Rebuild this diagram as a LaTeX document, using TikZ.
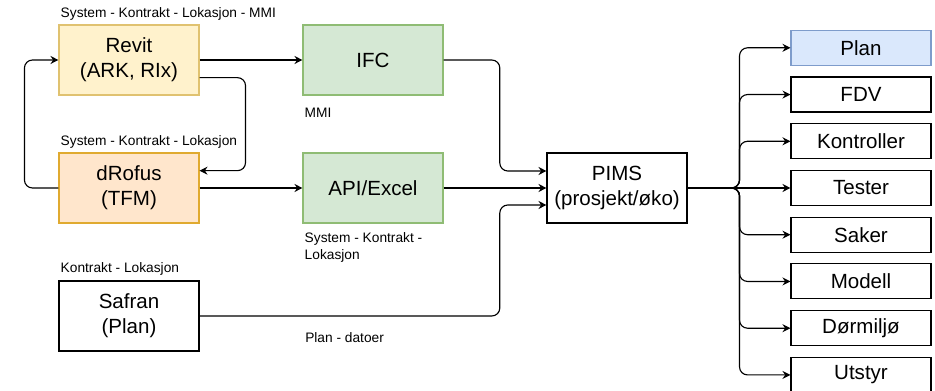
\documentclass[tikz,border=0pt]{standalone}
\usepackage{fontspec}
\setmainfont{Liberation Sans}
\usetikzlibrary{arrows.meta, positioning}

\definecolor{revitfill}{HTML}{FFF2CC}
\definecolor{revitline}{HTML}{E0C270}
\definecolor{drofusfill}{HTML}{FFE6CC}
\definecolor{drofusline}{HTML}{E0AA30}
\definecolor{greenfill}{HTML}{D5E8D4}
\definecolor{greenline}{HTML}{8FBC74}
\definecolor{bluefill}{HTML}{DAE8FC}
\definecolor{blueline}{HTML}{7E9CCB}

\begin{document}
\begin{tikzpicture}[
        x=0.75pt, y=-0.75pt,
        font=\fontsize{15.4}{18.8}\selectfont,
        node distance=42.7pt and 77.2pt,
        box/.style={rectangle, draw, fill=white, line width=0.8pt, minimum width=105pt, minimum height=52.5pt, align=center, inner sep=1pt},
        item/.style={box, minimum height=26.25pt},
        lbl/.style={font=\fontsize{10.3}{12.75}\selectfont, inner sep=0pt, align=left},
        arrow/.style={-{Stealth[length=6pt, width=6pt, inset=2pt]}, line width=0.85pt, rounded corners=6pt}
    ]
        \useasboundingbox (0,0) rectangle (935,391);

        % Sources
        \node[box, fill=revitfill, draw=revitline] (revit) at (129,60) {Revit\\(ARK, RIx)};
        \node[box, fill=greenfill, draw=greenline, right=of revit] (ifc) {IFC};
        \node[box, fill=drofusfill, draw=drofusline, below=of revit] (drofus) {dRofus\\(TFM)};
        \node[box, fill=greenfill, draw=greenline, right=of drofus] (api) {API/Excel};
        \node[box, below=of drofus] (safran) {Safran\\(Plan)};
        \node[box, right=of api] (pims) {PIMS\\(prosjekt/øko)};

        % Outputs
        \node[item, right=of pims] (tester) {Tester};
        \node[item, above=8pt of tester] (kontroller) {Kontroller};
        \node[item, above=8pt of kontroller] (fdv) {FDV};
        \node[item, fill=bluefill, draw=blueline, above=8pt of fdv] (plan) {Plan};
        \node[item, below=8pt of tester] (saker) {Saker};
        \node[item, below=8pt of saker] (modell) {Modell};
        \node[item, below=8pt of modell] (dormiljo) {Dørmiljø};
        \node[item, below=8pt of dormiljo] (utstyr) {Utstyr};

        % Labels
        \node[lbl, anchor=base west] (revitlbl) at ([shift={(2,-6.5)}]revit.north west) {System - Kontrakt - Lokasjon - MMI};
        \node[lbl, anchor=base west] (drofuslbl) at ([shift={(2,-7)}]drofus.north west) {System - Kontrakt - Lokasjon};
        \node[lbl, anchor=base west] (safranlbl) at ([shift={(2,-7.5)}]safran.north west) {Kontrakt - Lokasjon};
        \node[lbl, anchor=base west] (ifclbl) at ([shift={(2,22)}]ifc.south west) {MMI};
        \node[lbl, anchor=base west] (apilbl) at ([shift={(2,36)}]api.south west) {System - Kontrakt -\\Lokasjon};
        \node[lbl, anchor=base west] (planlbl) at (305,343) {Plan - datoer};

        % Arrows
        \draw[arrow] (revit) -- (ifc);
        \draw[arrow] (drofus) -- (api);
        \draw[arrow] (api) -- (pims);
        \draw[arrow] ([yshift=-13.25pt]revit.east) -| ([xshift=34.5pt,yshift=13pt]drofus.east) -- ([yshift=13pt]drofus.east);
        \draw[arrow] (drofus.west) -| ([xshift=-25.5pt]revit.west) -- (revit.west);
        \draw[arrow] (ifc.east) -| ([xshift=-35pt,yshift=12.75pt]pims.west) -- ([yshift=12.75pt]pims.west);
        \draw[arrow] (safran.east) -| ([xshift=-35pt,yshift=-12.75pt]pims.west) -- ([yshift=-12.75pt]pims.west);

        \coordinate (bus) at ([xshift=39pt]pims.east);
        \draw[arrow] (pims) -- (tester);
        \foreach \out in {plan, fdv, kontroller, saker, modell, dormiljo, utstyr}
            \draw[arrow] (pims.east) -- (bus) |- (\out.west);
    \end{tikzpicture}
\end{document}
